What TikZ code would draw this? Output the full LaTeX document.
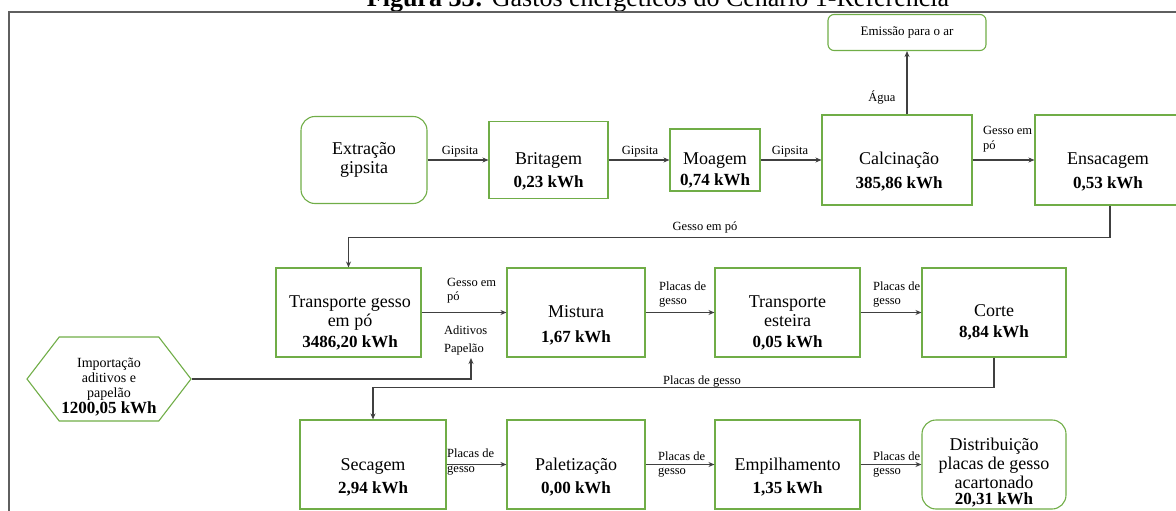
\documentclass[tikz,border=0pt]{standalone}
\usepackage{fontspec}
\setmainfont{Liberation Serif}
\usetikzlibrary{arrows.meta,shapes.symbols}
\definecolor{boxgreen}{RGB}{112,173,71}
\definecolor{flowgray}{RGB}{64,64,64}
\definecolor{framegray}{RGB}{95,95,95}
\newcommand{\kwh}[1]{{\fontsize{17}{19}\selectfont\bfseries #1~kWh}}

\begin{document}
\begin{tikzpicture}[x=1pt, y=-1pt]
  \tikzset{
    box/.style={draw=boxgreen, line width=1.1pt, inner sep=0pt},
    rbox/.style={box, rounded corners=14pt},
    txt/.style={align=center, font=\fontsize{18}{19}\selectfont, inner sep=0pt},
    small/.style={align=left, font=\fontsize{12.5}{14.5}\selectfont, inner sep=0pt},
    flow/.style={draw=flowgray, line width=1.2pt, -{Stealth[length=6pt,width=5pt]}}
  }
  \useasboundingbox (0,0) rectangle (1176,511);

  % caption, cut by the page top
  \begin{scope}
    \clip (0,0) rectangle (1176,511);
    \node[anchor=base, font=\fontsize{26}{28}\selectfont] (title) at (658,7)
      {\textbf{Figura 33:} Gastos energéticos do Cenário 1-Referência};
  \end{scope}
  \draw[framegray, line width=2pt] (9,511) -- (9,12) -- (1176,12);

  % Row 1: gipsita
  \node[rbox, txt, minimum width=126pt, minimum height=87pt] (extr) at (364,160) {Extração\\gipsita};
  \node[box, minimum width=119pt, minimum height=77pt] (brit) at (548.5,160) {};
  \node[txt] (brit-t) at (548.5,171.5) {Britagem\\[4pt]\kwh{0,23}};
  \node[box, minimum width=90pt, minimum height=62pt] (moag) at (715,160) {};
  \node[txt] (moag-t) at (715,170.5) {Moagem\\[2pt]\kwh{0,74}};
  \node[box, minimum width=150pt, minimum height=90pt] (calc) at (897,160) {};
  \node[txt] (calc-t) at (899,172) {Calcinação\\[5pt]\kwh{385,86}};
  \node[box, minimum width=150pt, minimum height=90pt] (ensa) at (1110,160) {};
  \node[txt] (ensa-t) at (1108,172) {Ensacagem\\[5pt]\kwh{0,53}};
  \node[box, rounded corners=6pt, minimum width=158pt, minimum height=36pt,
        font=\fontsize{13}{15}\selectfont] (emis) at (907,32.5) {Emissão para o ar};

  \draw[flow] (extr.east) -- (brit.west);
  \draw[flow] (brit.east) -- (moag.west);
  \draw[flow] (moag.east) -- (calc.west);
  \draw[flow] (calc.east) -- (ensa.west);
  \draw[flow] (emis.south |- calc.north) -- (emis.south);
  \foreach \x/\n in {460/g1, 640/g2, 790/g3}
    \node[small] (\n) at (\x,152) {Gipsita};
  \node[small, anchor=west] (l-cal) at (983,139) {Gesso em\\pó};
  \node[small] (agua) at (882,97) {Água};

  % Row 2: placas
  \node[box, minimum width=145pt, minimum height=89pt] (trans) at (348.5,312.5) {};
  \node[txt] (trans-t) at (350,323) {Transporte gesso\\em pó\\[2pt]\kwh{3486,20}};
  \node[box, minimum width=138pt, minimum height=89pt] (mist) at (576,312.5) {};
  \node[txt] (mist-t) at (576,325.5) {Mistura\\[6pt]\kwh{1,67}};
  \node[box, minimum width=145pt, minimum height=89pt] (este) at (787.5,312.5) {};
  \node[txt] (este-t) at (787.5,323) {Transporte\\esteira\\[2pt]\kwh{0,05}};
  \node[box, minimum width=144pt, minimum height=89pt] (cort) at (994,312.5) {};
  \node[txt] (cort-t) at (994,322.5) {Corte\\[2pt]\kwh{8,84}};
  \node[box, signal, signal to=west and east, signal pointer angle=105,
        minimum width=164pt, minimum height=84pt] (imp) at (109,379) {};
  \node[txt, font=\fontsize{14}{15}\selectfont] (imp-t) at (109,387.5)
    {Importação\\aditivos e\\papelão\\[1pt]\kwh{1200,05}};

  \draw[flow] (ensa.south) |- ([yshift=30pt]trans.north) -- (trans.north);
  \node[small] (l-gp) at (705,227) {Gesso em pó};
  \draw[flow] (trans.east) -- (mist.west);
  \draw[flow] (mist.east) -- (este.west);
  \draw[flow] (este.east) -- (cort.west);
  \coordinate (adin) at (471,358);
  \draw[flow] (imp.east) -| (adin);
  \node[small, anchor=west] (l-tm) at (447,290.5) {Gesso em\\pó};
  \node[small, anchor=west] (l-ad) at (444,340.5) {Aditivos\\[4pt]Papelão};
  \node[small, anchor=west] (l-me) at (659,294.5) {Placas de\\gesso};
  \node[small, anchor=west] (l-ec) at (873,294.5) {Placas de\\gesso};

  % Row 3: acabamento
  \node[box, minimum width=146pt, minimum height=89pt] (seca) at (373,464.5) {};
  \node[txt] (seca-t) at (373,477.5) {Secagem\\[4pt]\kwh{2,94}};
  \node[box, minimum width=138pt, minimum height=89pt] (pale) at (576,464.5) {};
  \node[txt] (pale-t) at (576,477.5) {Paletização\\[4pt]\kwh{0,00}};
  \node[box, minimum width=145pt, minimum height=89pt] (empi) at (787.5,464.5) {};
  \node[txt] (empi-t) at (787.5,477.5) {Empilhamento\\[4pt]\kwh{1,35}};
  \node[rbox, minimum width=144pt, minimum height=89pt] (dist) at (994,464.5) {};
  \node[txt] (dist-t) at (994,473) {Distribuição\\placas de gesso\\acartonado\\[-3pt]\kwh{20,31}};

  \draw[flow] (cort.south) |- ([yshift=32pt]seca.north) -- (seca.north);
  \node[small] (l-pg) at (702,382) {Placas de gesso};
  \draw[flow] (seca.east) -- (pale.west);
  \draw[flow] (pale.east) -- (empi.west);
  \draw[flow] (empi.east) -- (dist.west);
  \node[small, anchor=west] (l-sp) at (447,462) {Placas de\\gesso};
  \node[small, anchor=west] (l-pe) at (658,464.5) {Placas de\\gesso};
  \node[small, anchor=west] (l-ed) at (873,464.5) {Placas de\\gesso};
\end{tikzpicture}
\end{document}
